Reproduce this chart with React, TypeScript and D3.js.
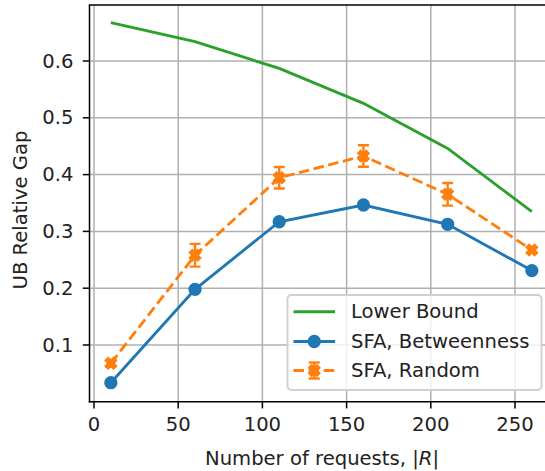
import React from "react";
import * as d3 from "d3";

const requests = [10, 60, 110, 160, 210, 260];
const lowerBound = [0.6675, 0.634, 0.587, 0.5255, 0.446, 0.335];
const sfaBetweenness = [0.0336, 0.198, 0.317, 0.3465, 0.3125, 0.231];
const sfaRandom = [0.0678, 0.258, 0.3945, 0.4327, 0.3653, 0.2673];
const sfaRandomErr = [0.006, 0.02, 0.019, 0.019, 0.02, 0.005];
const xTicks = [0, 50, 100, 150, 200, 250];
const yTicks = [0.1, 0.2, 0.3, 0.4, 0.5, 0.6];
const legendLabels = ["Lower Bound", "SFA, Betweenness", "SFA, Random"];

const W = 545;
const H = 471;
const FONT = "DejaVu Sans, sans-serif";
const FS = 19.6;
const GREEN = "#2ca02c";
const BLUE = "#1f77b4";
const ORANGE = "#ff7f0e";
const LW = 2.85;

const axLeft = 89.5;
const axTop = 5;
const axBottom = 401.7;

const x = d3.scaleLinear().domain([0, 250]).range([94, 515]);
const y = d3.scaleLinear().domain([0.1, 0.6]).range([345, 61]);
const axRight = x(272.5);

function xMarkerPath(size: number) {
  const pts = [
    [-1, -3], [1, -3], [1, -1], [3, -1], [3, 1], [1, 1],
    [1, 3], [-1, 3], [-1, 1], [-3, 1], [-3, -1], [-1, -1],
  ];
  const c = Math.SQRT1_2;
  const s = size / 6;
  const r = pts.map(([a, b]) => [(a * c - b * c) * s, (a * c + b * c) * s]);
  return "M" + r.map((p) => p[0].toFixed(2) + "," + p[1].toFixed(2)).join("L") + "Z";
}

export default function App() {
  const lineGen = d3
    .line<number>()
    .x((_, i) => x(requests[i]))
    .y((d) => y(d));
  const xm = xMarkerPath(11.4);
  const cap = 5.5;

  const legX = 287.5;
  const legY = 295;
  const legW = 254;
  const legH = 95;
  const rows = [311.7, 341.5, 370.5];
  const hx0 = 293.5;
  const hx1 = 335;
  const hxm = (hx0 + hx1) / 2;

  return (
    <svg
      width={W}
      height={H}
      style={{ position: "absolute", left: 0, top: 0, background: "#fff" }}
      fontFamily={FONT}
    >
      <defs>
        <clipPath id="axclip">
          <rect x={axLeft} y={axTop} width={axRight - axLeft} height={axBottom - axTop} />
        </clipPath>
      </defs>
      <rect x={0} y={0} width={W} height={H} fill="#fff" />
      {/* grid */}
      <g stroke="#b0b0b0" strokeWidth={1.5}>
        {xTicks.map((t) => (
          <line key={"gx" + t} x1={x(t)} x2={x(t)} y1={axTop} y2={axBottom} />
        ))}
        {yTicks.map((t) => (
          <line key={"gy" + t} x1={axLeft} x2={axRight} y1={y(t)} y2={y(t)} />
        ))}
      </g>
      {/* data */}
      <g clipPath="url(#axclip)">
        <path d={lineGen(lowerBound) || ""} fill="none" stroke={GREEN} strokeWidth={LW} />
        <path d={lineGen(sfaBetweenness) || ""} fill="none" stroke={BLUE} strokeWidth={LW} />
        {sfaBetweenness.map((v, i) => (
          <circle key={"b" + i} cx={x(requests[i])} cy={y(v)} r={5.7} fill={BLUE} stroke={BLUE} strokeWidth={1.9} />
        ))}
        <path
          d={lineGen(sfaRandom) || ""}
          fill="none"
          stroke={ORANGE}
          strokeWidth={LW}
          strokeDasharray="10.5,4.6"
        />
        {sfaRandom.map((v, i) => {
          const cx = x(requests[i]);
          const top = y(v + sfaRandomErr[i]);
          const bot = y(v - sfaRandomErr[i]);
          return (
            <g key={"r" + i} stroke={ORANGE} strokeWidth={2.4}>
              <line x1={cx} x2={cx} y1={top} y2={bot} />
              <line x1={cx - cap} x2={cx + cap} y1={top} y2={top} />
              <line x1={cx - cap} x2={cx + cap} y1={bot} y2={bot} />
              <path d={xm} transform={`translate(${cx},${y(v)})`} fill={ORANGE} strokeWidth={1.9} />
            </g>
          );
        })}
      </g>
      {/* spines */}
      <g stroke="#000" strokeWidth={1.5} fill="none">
        <line x1={axLeft} x2={axLeft} y1={axTop} y2={axBottom + 0.75} />
        <line x1={axLeft - 0.75} x2={axRight} y1={axBottom} y2={axBottom} />
        <line x1={axLeft - 0.75} x2={axRight} y1={axTop} y2={axTop} />
      </g>
      {/* ticks */}
      <g stroke="#000" strokeWidth={1.5}>
        {xTicks.map((t) => (
          <line key={"tx" + t} x1={x(t)} x2={x(t)} y1={axBottom} y2={axBottom + 6.7} />
        ))}
        {yTicks.map((t) => (
          <line key={"ty" + t} x1={axLeft - 6.7} x2={axLeft} y1={y(t)} y2={y(t)} />
        ))}
      </g>
      <g fontSize={FS} fill="#222">
        {xTicks.map((t) => (
          <text key={"lx" + t} x={x(t)} y={431} textAnchor="middle">
            {t}
          </text>
        ))}
        {yTicks.map((t) => (
          <text key={"ly" + t} x={73.5} y={y(t)} textAnchor="end" dominantBaseline="central">
            {t.toFixed(1)}
          </text>
        ))}
      </g>
      <text x={322} y={464.5} textAnchor="middle" fontSize={FS} fill="#222">
        Number of requests, |<tspan fontStyle="italic">R</tspan>|
      </text>
      <text
        transform={`translate(26.5,210) rotate(-90)`}
        textAnchor="middle"
        fontSize={FS}
        fill="#222"
      >
        UB Relative Gap
      </text>
      {/* legend */}
      <rect
        x={legX}
        y={legY}
        width={legW}
        height={legH}
        rx={4}
        fill="#fff"
        fillOpacity={0.8}
        stroke="#d0d0d0"
        strokeWidth={1.9}
      />
      <g>
        <line x1={hx0} x2={hx1} y1={rows[0]} y2={rows[0]} stroke={GREEN} strokeWidth={LW} />
        <line x1={hx0} x2={hx1} y1={rows[1]} y2={rows[1]} stroke={BLUE} strokeWidth={LW} />
        <circle cx={hxm} cy={rows[1]} r={5.7} fill={BLUE} stroke={BLUE} strokeWidth={1.9} />
        <line
          x1={hx0}
          x2={hx1}
          y1={rows[2]}
          y2={rows[2]}
          stroke={ORANGE}
          strokeWidth={LW}
          strokeDasharray="10.5,4.6"
        />
        <g stroke={ORANGE} strokeWidth={2.4}>
          <line x1={hxm} x2={hxm} y1={rows[2] - 8} y2={rows[2] + 8} />
          <line x1={hxm - cap} x2={hxm + cap} y1={rows[2] - 8} y2={rows[2] - 8} />
          <line x1={hxm - cap} x2={hxm + cap} y1={rows[2] + 8} y2={rows[2] + 8} />
          <path d={xm} transform={`translate(${hxm},${rows[2]})`} fill={ORANGE} strokeWidth={1.9} />
        </g>
        {legendLabels.map((l, i) => (
          <text key={l} x={351} y={rows[i]} dominantBaseline="central" fontSize={FS} fill="#222">
            {l}
          </text>
        ))}
      </g>
    </svg>
  );
}
